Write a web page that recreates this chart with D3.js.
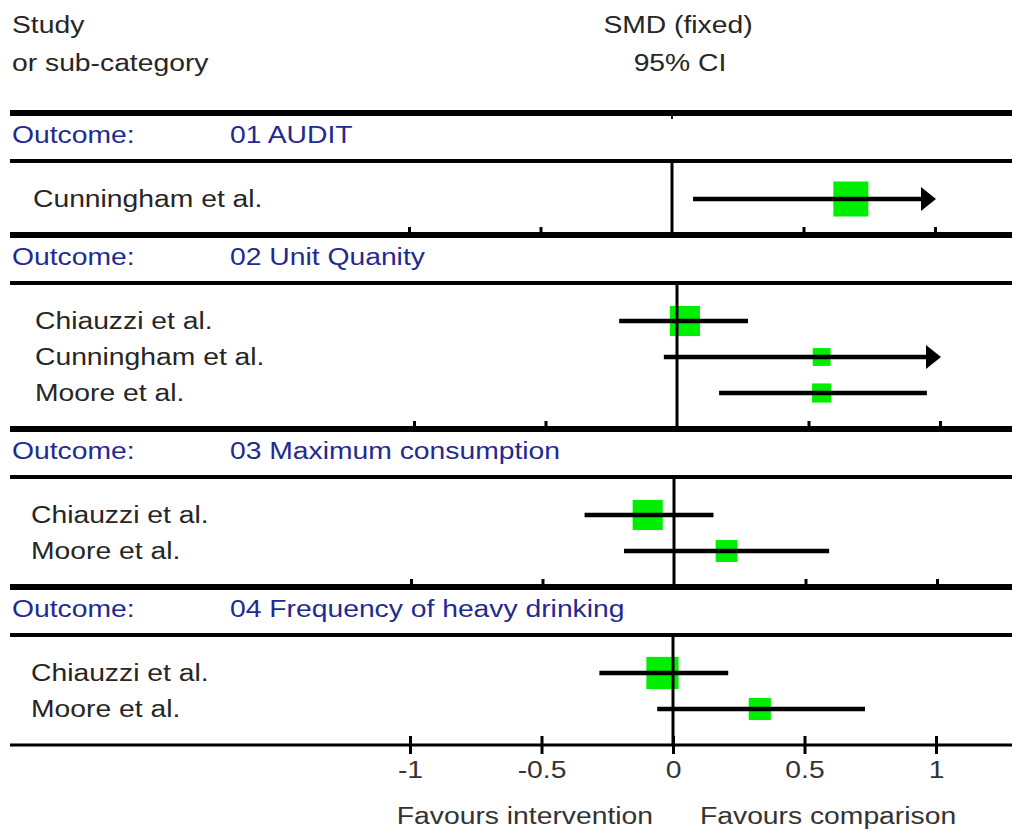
<!DOCTYPE html>
<html lang="en">
<head>
  <meta charset="UTF-8">
  <title>Forest plot - SMD (fixed)</title>
  <style>
    html, body {
      background: #fff;
      margin: 0px;
      overflow: hidden;
    }
    text {
      font-family: "Liberation Sans", Arial, sans-serif;
      font-size: 23px;
    }
  </style>
</head>
<body>
<div id="container"></div>
<script src="https://cdnjs.cloudflare.com/ajax/libs/d3/7.8.5/d3.min.js"></script>
<script>

  // outcomes (sub-groups) and the studies in each
  var outcomes = ["01 AUDIT", "02 Unit Quanity", "03 Maximum consumption", "04 Frequency of heavy drinking"];
  var outcomeOf = [0, 1, 1, 1, 2, 2, 3, 3];
  var studyNames = ["Cunningham et al.", "Chiauzzi et al.", "Cunningham et al.", "Moore et al.",
                    "Chiauzzi et al.", "Moore et al.", "Chiauzzi et al.", "Moore et al."];
  var smd    = [0.68, 0.03, 0.55, 0.55, -0.10, 0.20, -0.04, 0.33];
  var ciLow  = [0.08, -0.22, -0.05, 0.16, -0.34, -0.19, -0.28, -0.06];
  var ciHigh = [1.30, 0.27, 1.30, 0.95, 0.15, 0.59, 0.21, 0.73];
  var weight = [100, 74, 26, 30, 74, 39, 85, 40];
  var tickValues = [-1, -0.5, 0, 0.5, 1];

  var width = 1012, height = 833;
  var svg = d3.select('#container').append('svg')
    .attr('width', width)
    .attr('height', height);

  var x = d3.scaleLinear().domain([-1, 1]).range([410, 936]);
  var size = d3.scaleSqrt().domain([0, 100]).range([0, 35]);

  // the panels were pasted together a little out of line
  var panelShift = [-1, 4, 1, 0];
  var labelX = [33, 35, 31, 31];

  var stretch = 1.23;   // text in the picture is wider than normal
  var navy = '#1f2b8e';

  function label(x0, y0, str, anchor, color) {
    return svg.append('text')
      .attr('transform', 'translate(' + x0 + ',' + y0 + ') scale(' + stretch + ',1)')
      .attr('text-anchor', anchor || 'start')
      .attr('fill', color || '#262626')
      .text(str);
  }

  function hline(y, w) {
    svg.append('line')
      .attr('x1', 10).attr('x2', width)
      .attr('y1', y).attr('y2', y)
      .attr('stroke', '#000').attr('stroke-width', w);
  }

  // header
  label(12, 33, 'Study');
  label(12, 71, 'or sub-category');
  label(678, 33, 'SMD (fixed)', 'middle');
  label(680, 71, '95% CI', 'middle');

  // vertical layout
  var topLine = 113, headGap = 22, lineGap = 26, firstRow = 38, rowStep = 36, sepGap = 36;

  hline(topLine, 6);
  svg.append('line')
    .attr('x1', x(0) - 1).attr('x2', x(0) - 1)
    .attr('y1', topLine).attr('y2', topLine + 6)
    .attr('stroke', '#000').attr('stroke-width', 2);

  var rows = studyNames.map(function(name, i) {
    return { name: name, outcome: outcomeOf[i], smd: smd[i], lo: ciLow[i], hi: ciHigh[i], w: weight[i] };
  });

  var yPos = topLine;
  outcomes.forEach(function(outcome, p) {
    var px = function(v) { return x(v) + panelShift[p]; };
    var headY = yPos + headGap;
    var lineY = headY + lineGap;
    var items = rows.filter(function(d) { return d.outcome === p; });
    var sepY = lineY + firstRow + rowStep * (items.length - 1) + sepGap;
    var isLast = p === outcomes.length - 1;

    label(12, headY + 8, 'Outcome:', 'start', navy);
    label(230, headY + 8, outcome, 'start', navy);
    hline(lineY, 4);

    var g = svg.append('g');

    items.forEach(function(d, k) {
      d.y = lineY + firstRow + rowStep * k;
      label(labelX[p], d.y + 8, d.name);
    });

    // weight squares
    g.selectAll('rect.box')
      .data(items)
      .enter().append('rect')
      .attr('class', 'box')
      .attr('x', function(d) { return px(d.smd) - size(d.w) / 2; })
      .attr('y', function(d) { return d.y - size(d.w) / 2; })
      .attr('width', function(d) { return size(d.w); })
      .attr('height', function(d) { return size(d.w); })
      .attr('fill', '#00ee00');

    // zero line
    g.append('line')
      .attr('x1', px(0)).attr('x2', px(0))
      .attr('y1', lineY).attr('y2', sepY)
      .attr('stroke', '#000').attr('stroke-width', 3);

    // confidence intervals, clipped at 1 with an arrow
    g.selectAll('line.ci')
      .data(items)
      .enter().append('line')
      .attr('class', 'ci')
      .attr('x1', function(d) { return px(Math.max(d.lo, -1)); })
      .attr('x2', function(d) { return d.hi > 1 ? px(1) - 13 : px(d.hi); })
      .attr('y1', function(d) { return d.y; })
      .attr('y2', function(d) { return d.y; })
      .attr('stroke', '#000').attr('stroke-width', 4.5);

    g.selectAll('path.arrow')
      .data(items.filter(function(d) { return d.hi > 1; }))
      .enter().append('path')
      .attr('class', 'arrow')
      .attr('d', function(d) {
        var tip = px(1) + 1;
        return 'M' + (tip - 15) + ',' + (d.y - 12) + 'L' + tip + ',' + d.y + 'L' + (tip - 15) + ',' + (d.y + 12) + 'Z';
      })
      .attr('fill', '#000');

    if (!isLast) {
      hline(sepY, 6);
      var ax = d3.axisTop(x)
        .tickValues(tickValues.filter(function(v) { return v !== 0; }))
        .tickSize(6)
        .tickFormat('');
      var a = svg.append('g')
        .attr('transform', 'translate(' + panelShift[p] + ',' + (sepY - 2) + ')')
        .call(ax);
      a.select('.domain').remove();
      a.selectAll('.tick line').attr('stroke', '#000').attr('stroke-width', 3);
    } else {
      // bottom axis
      hline(sepY, 3);
      var bx = d3.axisBottom(x)
        .tickValues(tickValues)
        .tickSize(9)
        .tickPadding(8)
        .tickFormat(function(v) { return String(v); });
      var b = svg.append('g')
        .attr('transform', 'translate(0,' + sepY + ')')
        .call(bx);
      b.select('.domain').remove();
      b.selectAll('.tick line')
        .attr('y1', -9)
        .attr('stroke', '#000').attr('stroke-width', 3);
      b.selectAll('.tick text')
        .attr('fill', '#333')
        .attr('transform', 'scale(' + stretch + ',1)')
        .style('font-size', '23px')
        .style('font-family', '"Liberation Sans", Arial, sans-serif');

      label(x(0) - 20, sepY + 79, 'Favours intervention', 'end', '#333');
      label(x(0) + 27, sepY + 79, 'Favours comparison', 'start', '#333');
    }

    yPos = sepY;
  });

</script>
</body>
</html>
